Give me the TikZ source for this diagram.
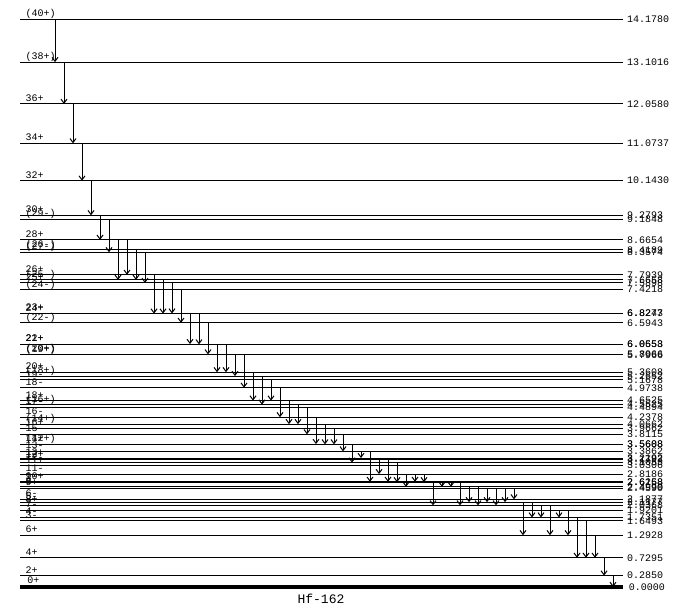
\documentclass[tikz,border=0pt]{standalone}
\usepackage{fontspec}
\setmonofont{Liberation Mono}
\usetikzlibrary{arrows.meta}

\newcommand{\ey}[1]{587-40.06*#1}

\begin{document}
\begin{tikzpicture}[x=1pt, y=-1pt, line width=1pt]
        \tikzstyle{lvl} = [draw]
        \tikzstyle{spin} = [anchor=base west, inner sep=0pt, xshift=5pt, yshift=2.5pt, font=\ttfamily\fontsize{10}{10}\selectfont]
        \tikzstyle{energy} = [anchor=west, inner sep=0pt, xshift=3.5pt, font=\ttfamily\fontsize{10}{10}\selectfont]
        \tikzstyle{gamma} = [draw, -{Straight Barb[length=4pt, width=6pt]}]

        \path [use as bounding box] (0,0) rectangle (675,609);

        % levels
        \draw [lvl] (20,{\ey{14.1780}}) coordinate (l14178) node [spin] {(40+)} -- ++(603,0) node [energy] {14.1780};
        \draw [lvl] (20,{\ey{13.1016}}) coordinate (l13102) node [spin] {(38+)} -- ++(603,0) node [energy] {13.1016};
        \draw [lvl] (20,{\ey{12.0580}}) coordinate (l12058) node [spin] {36+} -- ++(603,0) node [energy] {12.0580};
        \draw [lvl] (20,{\ey{11.0737}}) coordinate (l11074) node [spin] {34+} -- ++(603,0) node [energy] {11.0737};
        \draw [lvl] (20,{\ey{10.1430}}) coordinate (l10143) node [spin] {32+} -- ++(603,0) node [energy] {10.1430};
        \draw [lvl] (20,{\ey{9.2793}}) coordinate (l9279) node [spin] {30+} -- ++(603,0) node [energy] {9.2793};
        \draw [lvl] (20,{\ey{9.1848}}) coordinate (l9185) node [spin] {(29-)} -- ++(603,0) node [energy] {9.1848};
        \draw [lvl] (20,{\ey{8.6654}}) coordinate (l8665) node [spin] {28+} -- ++(603,0) node [energy] {8.6654};
        \draw [lvl] (20,{\ey{8.4189}}) coordinate (l8419) node [spin] {(26-)} -- ++(603,0) node [energy] {8.4189};
        \draw [lvl] (20,{\ey{8.3574}}) coordinate (l8357) node [spin] {(27-)} -- ++(603,0) node [energy] {8.3574};
        \draw [lvl] (20,{\ey{7.7939}}) coordinate (l7794) node [spin] {26+} -- ++(603,0) node [energy] {7.7939};
        \draw [lvl] (20,{\ey{7.6658}}) coordinate (l7666) node [spin] {(25-)} -- ++(603,0) node [energy] {7.6658};
        \draw [lvl] (20,{\ey{7.5898}}) coordinate (l7590) node [spin] {25+} -- ++(603,0) node [energy] {7.5898};
        \draw [lvl] (20,{\ey{7.4218}}) coordinate (l7422) node [spin] {(24-)} -- ++(603,0) node [energy] {7.4218};
        \draw [lvl] (20,{\ey{6.8247}}) coordinate (l6825) node [spin] {24+} -- ++(603,0) node [energy] {6.8247};
        \draw [lvl] (20,{\ey{6.8273}}) coordinate (l6827) node [spin] {23+} -- ++(603,0) node [energy] {6.8273};
        \draw [lvl] (20,{\ey{6.5943}}) coordinate (l6594) node [spin] {(22-)} -- ++(603,0) node [energy] {6.5943};
        \draw [lvl] (20,{\ey{6.0653}}) coordinate (l6065) node [spin] {22+} -- ++(603,0) node [energy] {6.0653};
        \draw [lvl] (20,{\ey{6.0558}}) coordinate (l6056) node [spin] {21+} -- ++(603,0) node [energy] {6.0558};
        \draw [lvl] (20,{\ey{5.8066}}) coordinate (l5807) node [spin] {(20+)} -- ++(603,0) node [energy] {5.8066};
        \draw [lvl] (20,{\ey{5.7966}}) coordinate (l5797) node [spin] {(19+)} -- ++(603,0) node [energy] {5.7966};
        \draw [lvl] (20,{\ey{5.3608}}) coordinate (l5361) node [spin] {20+} -- ++(603,0) node [energy] {5.3608};
        \draw [lvl] (20,{\ey{5.2652}}) coordinate (l5265) node [spin] {(18+)} -- ++(603,0) node [energy] {5.2652};
        \draw [lvl] (20,{\ey{5.1678}}) coordinate (l5168) node [spin] {19-} -- ++(603,0) node [energy] {5.1678};
        \draw [lvl] (20,{\ey{4.9738}}) coordinate (l4974) node [spin] {18-} -- ++(603,0) node [energy] {4.9738};
        \draw [lvl] (20,{\ey{4.6525}}) coordinate (l4653) node [spin] {18+} -- ++(603,0) node [energy] {4.6525};
        \draw [lvl] (20,{\ey{4.5525}}) coordinate (l4553) node [spin] {(16+)} -- ++(603,0) node [energy] {4.5525};
        \draw [lvl] (20,{\ey{4.4894}}) coordinate (l4489) node [spin] {17-} -- ++(603,0) node [energy] {4.4894};
        \draw [lvl] (20,{\ey{4.2378}}) coordinate (l4238) node [spin] {16-} -- ++(603,0) node [energy] {4.2378};
        \draw [lvl] (20,{\ey{4.0662}}) coordinate (l4066) node [spin] {(14+)} -- ++(603,0) node [energy] {4.0662};
        \draw [lvl] (20,{\ey{3.9662}}) coordinate (l3966) node [spin] {16+} -- ++(603,0) node [energy] {3.9662};
        \draw [lvl] (20,{\ey{3.8115}}) coordinate (l3812) node [spin] {15-} -- ++(603,0) node [energy] {3.8115};
        \draw [lvl] (20,{\ey{3.5688}}) coordinate (l3569) node [spin] {14+} -- ++(603,0) node [energy] {3.5688};
        \draw [lvl] (20,{\ey{3.5608}}) coordinate (l3561) node [spin] {(12+)} -- ++(603,0) node [energy] {3.5608};
        \draw [lvl] (20,{\ey{3.3862}}) coordinate (l3386) node [spin] {13-} -- ++(603,0) node [energy] {3.3862};
        \draw [lvl] (20,{\ey{3.2192}}) coordinate (l3219) node [spin] {13+} -- ++(603,0) node [energy] {3.2192};
        \draw [lvl] (20,{\ey{3.1792}}) coordinate (l3179) node [spin] {12+} -- ++(603,0) node [energy] {3.1792};
        \draw [lvl] (20,{\ey{3.1053}}) coordinate (l3105) node [spin] {12-} -- ++(603,0) node [energy] {3.1053};
        \draw [lvl] (20,{\ey{3.0306}}) coordinate (l3031) node [spin] {11+} -- ++(603,0) node [energy] {3.0306};
        \draw [lvl] (20,{\ey{2.8186}}) coordinate (l2819) node [spin] {11-} -- ++(603,0) node [energy] {2.8186};
        \draw [lvl] (20,{\ey{2.6268}}) coordinate (l2627) node [spin] {10+} -- ++(603,0) node [energy] {2.6268};
        \draw [lvl] (20,{\ey{2.6158}}) coordinate (l2616) node [spin] {9-} -- ++(603,0) node [energy] {2.6158};
        \draw [lvl] (20,{\ey{2.4990}}) coordinate (l2499) node [spin] {8-} -- ++(603,0) node [energy] {2.4990};
        \draw [lvl] (20,{\ey{2.4590}}) coordinate (l2459) node [spin] {9+} -- ++(603,0) node [energy] {2.4590};
        \draw [lvl] (20,{\ey{2.1877}}) coordinate (l2188) node [spin] {6-} -- ++(603,0) node [energy] {2.1877};
        \draw [lvl] (20,{\ey{2.1177}}) coordinate (l2118) node [spin] {5-} -- ++(603,0) node [energy] {2.1177};
        \draw [lvl] (20,{\ey{2.0368}}) coordinate (l2037) node [spin] {8+} -- ++(603,0) node [energy] {2.0368};
        \draw [lvl] (20,{\ey{1.9201}}) coordinate (l1920) node [spin] {7-} -- ++(603,0) node [energy] {1.9201};
        \draw [lvl] (20,{\ey{1.7351}}) coordinate (l1735) node [spin] {4-} -- ++(603,0) node [energy] {1.7351};
        \draw [lvl] (20,{\ey{1.6493}}) coordinate (l1649) node [spin] {3-} -- ++(603,0) node [energy] {1.6493};
        \draw [lvl] (20,{\ey{1.2928}}) coordinate (l1293) node [spin] {6+} -- ++(603,0) node [energy] {1.2928};
        \draw [lvl] (20,{\ey{0.7295}}) coordinate (l0730) node [spin] {4+} -- ++(603,0) node [energy] {0.7295};
        \draw [lvl] (20,{\ey{0.2850}}) coordinate (l0285) node [spin] {2+} -- ++(603,0) node [energy] {0.2850};
        \draw [lvl, line width=4.5pt] (20,{\ey{0.0000}}) coordinate (l0000) node [spin, yshift=1.5pt] {0+} -- ++(603,0) node [energy] {0.0000};

        % transitions
        \path [gamma] (l14178 -| 55,0) -- (l13102 -| 55,0);
        \path [gamma] (l13102 -| 64,0) -- (l12058 -| 64,0);
        \path [gamma] (l12058 -| 73,0) -- (l11074 -| 73,0);
        \path [gamma] (l11074 -| 82,0) -- (l10143 -| 82,0);
        \path [gamma] (l10143 -| 91,0) -- (l9279 -| 91,0);
        \path [gamma] (l9279 -| 100,0) -- (l8665 -| 100,0);
        \path [gamma] (l9185 -| 109,0) -- (l8357 -| 109,0);
        \path [gamma] (l8665 -| 118,0) -- (l7666 -| 118,0);
        \path [gamma] (l8665 -| 127,0) -- (l7794 -| 127,0);
        \path [gamma] (l8419 -| 136,0) -- (l7666 -| 136,0);
        \path [gamma] (l8357 -| 145,0) -- (l7590 -| 145,0);
        \path [gamma] (l7794 -| 154,0) -- (l6825 -| 154,0);
        \path [gamma] (l7666 -| 163,0) -- (l6825 -| 163,0);
        \path [gamma] (l7590 -| 172,0) -- (l6827 -| 172,0);
        \path [gamma] (l7422 -| 181,0) -- (l6594 -| 181,0);
        \path [gamma] (l6825 -| 190,0) -- (l6065 -| 190,0);
        \path [gamma] (l6827 -| 199,0) -- (l6056 -| 199,0);
        \path [gamma] (l6594 -| 208,0) -- (l5807 -| 208,0);
        \path [gamma] (l6065 -| 217,0) -- (l5361 -| 217,0);
        \path [gamma] (l6056 -| 226,0) -- (l5361 -| 226,0);
        \path [gamma] (l5807 -| 235,0) -- (l5265 -| 235,0);
        \path [gamma] (l5797 -| 244,0) -- (l4974 -| 244,0);
        \path [gamma] (l5361 -| 253,0) -- (l4653 -| 253,0);
        \path [gamma] (l5265 -| 262,0) -- (l4553 -| 262,0);
        \path [gamma] (l5168 -| 271,0) -- (l4653 -| 271,0);
        \path [gamma] (l4974 -| 280,0) -- (l4238 -| 280,0);
        \path [gamma] (l4653 -| 289,0) -- (l4066 -| 289,0);
        \path [gamma] (l4553 -| 298,0) -- (l4066 -| 298,0);
        \path [gamma] (l4489 -| 307,0) -- (l3812 -| 307,0);
        \path [gamma] (l4238 -| 316,0) -- (l3569 -| 316,0);
        \path [gamma] (l4066 -| 325,0) -- (l3561 -| 325,0);
        \path [gamma] (l3966 -| 334,0) -- (l3561 -| 334,0);
        \path [gamma] (l3812 -| 343,0) -- (l3386 -| 343,0);
        \path [gamma] (l3569 -| 352,0) -- (l3105 -| 352,0);
        \path [gamma] (l3386 -| 361,0) -- (l3219 -| 361,0);
        \path [gamma] (l3386 -| 370,0) -- (l2627 -| 370,0);
        \path [gamma] (l3219 -| 379,0) -- (l2819 -| 379,0);
        \path [gamma] (l3179 -| 388,0) -- (l2627 -| 388,0);
        \path [gamma] (l3105 -| 397,0) -- (l2616 -| 397,0);
        \path [gamma] (l2819 -| 406,0) -- (l2499 -| 406,0);
        \path [gamma] (l2819 -| 415,0) -- (l2627 -| 415,0);
        \path [gamma] (l2819 -| 424,0) -- (l2616 -| 424,0);
        \path [gamma] (l2627 -| 433,0) -- (l2037 -| 433,0);
        \path [gamma] (l2627 -| 442,0) -- (l2499 -| 442,0);
        \path [gamma] (l2616 -| 451,0) -- (l2499 -| 451,0);
        \path [gamma] (l2616 -| 460,0) -- (l2037 -| 460,0);
        \path [gamma] (l2499 -| 469,0) -- (l2118 -| 469,0);
        \path [gamma] (l2499 -| 478,0) -- (l2037 -| 478,0);
        \path [gamma] (l2459 -| 487,0) -- (l2118 -| 487,0);
        \path [gamma] (l2459 -| 496,0) -- (l2037 -| 496,0);
        \path [gamma] (l2459 -| 505,0) -- (l2118 -| 505,0);
        \path [gamma] (l2459 -| 514,0) -- (l2188 -| 514,0);
        \path [gamma] (l2118 -| 523,0) -- (l1293 -| 523,0);
        \path [gamma] (l2118 -| 532,0) -- (l1735 -| 532,0);
        \path [gamma] (l2037 -| 541,0) -- (l1735 -| 541,0);
        \path [gamma] (l2037 -| 550,0) -- (l1293 -| 550,0);
        \path [gamma] (l1920 -| 559,0) -- (l1735 -| 559,0);
        \path [gamma] (l1920 -| 568,0) -- (l1293 -| 568,0);
        \path [gamma] (l1735 -| 577,0) -- (l0730 -| 577,0);
        \path [gamma] (l1649 -| 586,0) -- (l0730 -| 586,0);
        \path [gamma] (l1293 -| 595,0) -- (l0730 -| 595,0);
        \path [gamma] (l0730 -| 604,0) -- (l0285 -| 604,0);
        \path [gamma] (l0285 -| 613,0) -- (l0000 -| 613,0);

        \node [font=\ttfamily\fontsize{13}{13}\selectfont] (nucl) at (321,599) {Hf-162};
    \end{tikzpicture}
\end{document}
